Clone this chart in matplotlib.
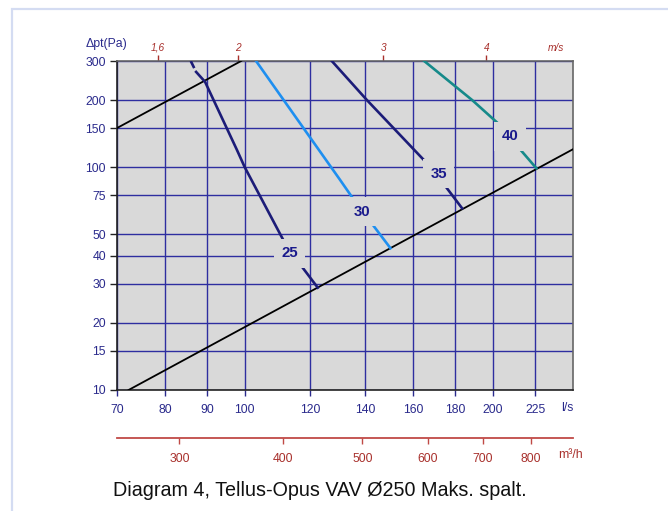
import numpy as np
import matplotlib
matplotlib.use("Agg")
import matplotlib.pyplot as plt
from matplotlib.ticker import NullLocator, FixedLocator, FixedFormatter
from matplotlib.patches import Rectangle

plt.rcParams['font.family'] = ['Liberation Sans', 'DejaVu Sans']

# data (l/s, Pa)
x_ticks = [70, 80, 90, 100, 120, 140, 160, 180, 200, 225]
y_ticks = [10, 15, 20, 30, 40, 50, 75, 100, 150, 200, 300]
ms_ticks = [1.6, 2, 3, 4]
ms_labels = ['1,6', '2', '3', '4']
m3h_ticks = [300, 400, 500, 600, 700, 800]

# system lines
low_q = [72.3, 250]
low_p = [10, 120.5]
up_q = [70, 99]
up_p = [150, 300]

# curves (nan = gap at label)
c25_dash_q = [86.0, 87.3]
c25_dash_p = [300, 268]
c25_q = [87.3, 89.5, 97.8, 100, 111.2, np.nan, 116.3, 122.6]
c25_p = [268, 242, 120, 100, 47.6, np.nan, 37.3, 28.8]
c30_q = [103.2, 130.5, 135.2, np.nan, 142.2, 150.2]
c30_p = [300, 87.7, 72.6, np.nan, 56.6, 43.3]
c35_q = [127.5, 140.6, 166.3, np.nan, 175.0, 183.4]
c35_p = [300, 200.5, 104.2, np.nan, 82.4, 65.5]
c40_q = [165.0, 188.6, 203.2, np.nan, 214.3, 225.7]
c40_p = [300, 200.5, 156.4, np.nan, 123.7, 99.0]

labels = ['25', '30', '35', '40']
label_q = [113.3, 138.7, 171.8, 209.5]
label_p = [41.1, 63.2, 93.3, 138]

navy = '#1c1c78'
tick_blue = '#2a2a8c'
grid_blue = '#2e2ea0'
red = '#a8302c'
bg = '#d9d9d9'

W, H = 668, 511
fig = plt.figure(figsize=(W / 100, H / 100), dpi=100)
ax = fig.add_axes([117 / W, 1 - 390 / H, (573 - 117) / W, (390 - 61) / H])
ax.set_facecolor(bg)
ax.set_xscale('log')
ax.set_yscale('log')
ax.set_xlim(70, 250)
ax.set_ylim(10, 300)

ax.xaxis.set_major_locator(FixedLocator(x_ticks))
ax.xaxis.set_major_formatter(FixedFormatter([str(v) for v in x_ticks]))
ax.xaxis.set_minor_locator(NullLocator())
ax.yaxis.set_major_locator(FixedLocator(y_ticks))
ax.yaxis.set_major_formatter(FixedFormatter([str(v) for v in y_ticks]))
ax.yaxis.set_minor_locator(NullLocator())

ax.grid(True, color=grid_blue, lw=1.0, zorder=1)
ax.set_axisbelow(True)
ax.tick_params(axis='x', colors=tick_blue, labelsize=8.8, length=4, pad=6, width=1)
ax.tick_params(axis='y', colors=tick_blue, labelsize=8.8, length=5, pad=3, width=1)
ax.tick_params(axis='y', color='#222222')
for s in ['left', 'bottom']:
    ax.spines[s].set_color('#222222')
    ax.spines[s].set_linewidth(1.2)
for s in ['top', 'right']:
    ax.spines[s].set_color('#666666')
    ax.spines[s].set_linewidth(1.2)

ax.plot(low_q, low_p, color='black', lw=1.3, zorder=3)
ax.plot(up_q, up_p, color='black', lw=1.3, zorder=3)
ax.plot(c25_dash_q, c25_dash_p, color=navy, lw=1.9, ls=(0, (3, 2)), zorder=4)
ax.plot(c25_q, c25_p, color=navy, lw=1.9, zorder=4)
ax.plot(c30_q, c30_p, color='#1e8ff0', lw=1.9, zorder=4)
ax.plot(c35_q, c35_p, color=navy, lw=1.9, zorder=4)
ax.plot(c40_q, c40_p, color='#168a8a', lw=1.9, zorder=4)

for t, q, p in zip(labels, label_q, label_p):
    ax.text(q, p, t, color='#1a1a8c', fontsize=10.8, fontweight='bold',
            ha='center', va='center', zorder=5,
            bbox=dict(boxstyle='square,pad=0.5', fc=bg, ec='none'))

# top axis m/s (duct 250 mm)
area = np.pi * 0.125 ** 2
top = ax.secondary_xaxis('top', functions=(lambda q: q / 1000 / area,
                                           lambda v: v * 1000 * area))
top.xaxis.set_major_locator(FixedLocator(ms_ticks))
top.xaxis.set_major_formatter(FixedFormatter(ms_labels))
top.xaxis.set_minor_locator(NullLocator())
top.spines['top'].set_visible(False)
top.tick_params(colors=red, labelsize=7.3, length=4, pad=2, width=1)
for lbl in top.get_xticklabels():
    lbl.set_fontstyle('italic')

# bottom axis m3/h
bot = ax.secondary_xaxis((390 - 438) / 329, functions=(lambda q: q * 3.6,
                                                      lambda m: m / 3.6))
bot.xaxis.set_major_locator(FixedLocator(m3h_ticks))
bot.xaxis.set_major_formatter(FixedFormatter([str(v) for v in m3h_ticks]))
bot.xaxis.set_minor_locator(NullLocator())
bot.spines['bottom'].set_color('#c04a46')
bot.spines['bottom'].set_linewidth(1.3)
bot.tick_params(colors=red, labelsize=8.8, length=4, pad=7, width=1)
bot.tick_params(color='#c04a46')

fig.text(106 / W, 1 - 44 / H, 'Δpt(Pa)', color=tick_blue, fontsize=8.8,
         ha='center', va='center')
fig.text(567 / W, 1 - 408 / H, 'l/s', color=tick_blue, fontsize=8.8,
         ha='center', va='center')
fig.text(570 / W, 1 - 455 / H, 'm³/h', color=red, fontsize=8.8,
         ha='center', va='center')
fig.text(556 / W, 1 - 48 / H, 'm/s', color=red, fontsize=7.3, style='italic',
         ha='center', va='center')
fig.text(320 / W, 1 - 490 / H, 'Diagram 4, Tellus-Opus VAV Ø250 Maks. spalt.',
         color='#111111', fontsize=14.2, ha='center', va='center')

fig.patches.append(Rectangle((11.7 / W, -0.1), 1.2, 1 - 9 / H + 0.1,
                             transform=fig.transFigure, fill=False,
                             ec='#d4dcf2', lw=1.6))

fig.savefig('out.png', dpi=100)
